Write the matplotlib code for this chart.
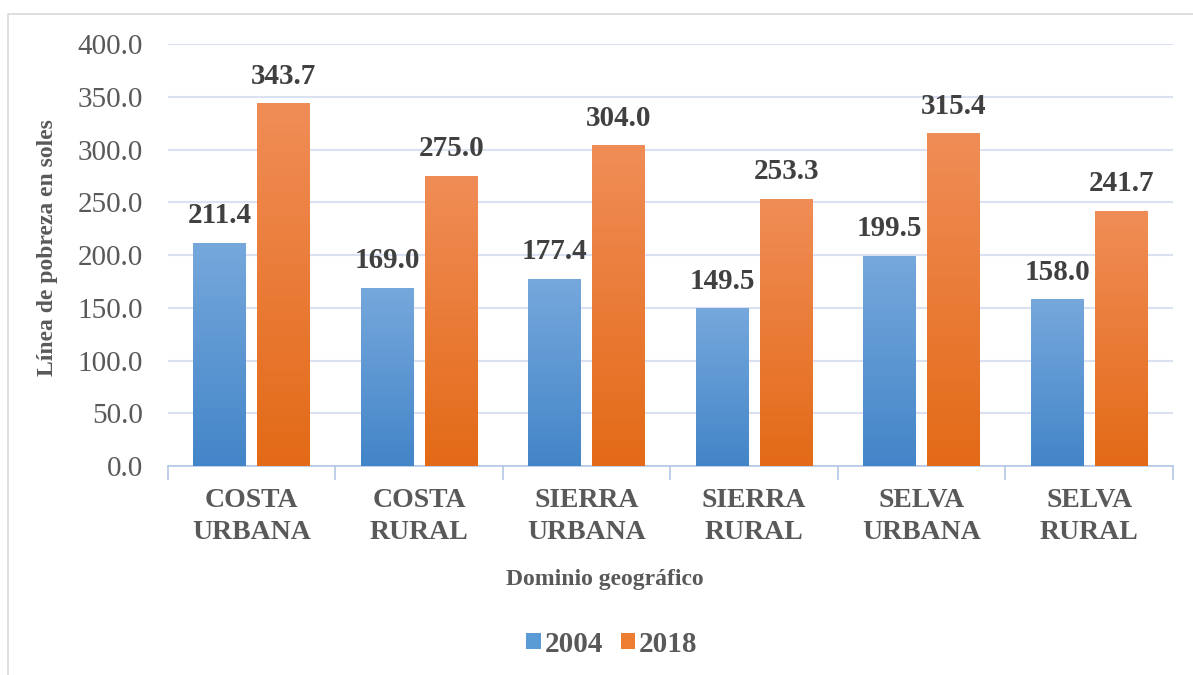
import matplotlib
matplotlib.use("Agg")
import matplotlib.pyplot as plt
import numpy as np
from matplotlib.colors import LinearSegmentedColormap
from matplotlib.patches import Rectangle

# datos
categorias = ["COSTA\nURBANA", "COSTA\nRURAL", "SIERRA\nURBANA",
              "SIERRA\nRURAL", "SELVA\nURBANA", "SELVA\nRURAL"]
v2004 = [211.4, 169.0, 177.4, 149.5, 199.5, 158.0]
v2018 = [343.7, 275.0, 304.0, 253.3, 315.4, 241.7]
series = ["2004", "2018"]

plt.rcParams['font.family'] = ['Liberation Serif', 'DejaVu Serif']

fig = plt.figure(figsize=(11.93, 6.75), dpi=100)
ax = fig.add_axes([0.1408, 0.3096, 0.8424, 0.6252])

# marco del grafico
fig.patches.append(Rectangle((8 / 1193, -0.01), 1.1, 1 - 14 / 675 + 0.01,
                             transform=fig.transFigure, fill=False,
                             edgecolor='#D9D9D9', lw=1.2))

grad_azul = LinearSegmentedColormap.from_list("az", ["#4385C8", "#76A8DC"])
grad_nar = LinearSegmentedColormap.from_list("na", ["#E36A17", "#F08D57"])

x = np.arange(len(categorias))
w = 0.316
off = 0.191
b1 = ax.bar(x - off, v2004, w, color='#5B9BD5', label=series[0], zorder=2)
b2 = ax.bar(x + off, v2018, w, color='#ED7D31', label=series[1], zorder=2)

grad = np.linspace(0, 1, 256).reshape(-1, 1)
for bars, cmap in ((b1, grad_azul), (b2, grad_nar)):
    for p in bars:
        x0, y0 = p.get_x(), p.get_y()
        im = ax.imshow(grad, cmap=cmap, origin='lower', aspect='auto',
                       extent=(x0, x0 + p.get_width(), y0, y0 + p.get_height()),
                       zorder=3)
        im.set_clip_path(p)

for bars, vals in ((b1, v2004), (b2, v2018)):
    for p, v in zip(bars, vals):
        ax.text(p.get_x() + p.get_width() / 2, v + 13, f"{v:.1f}",
                ha='center', va='bottom', fontsize=21, fontweight='bold',
                color='#404040', zorder=4)

ax.set_xlim(-0.5, len(categorias) - 0.5)
ax.set_ylim(0, 400)
ax.set_yticks(np.arange(0, 401, 50))
ax.set_yticklabels([f"{t:.1f}" for t in np.arange(0, 401, 50)])
ax.yaxis.grid(True, color='#D9E1F2', lw=1.5, zorder=0)
ax.set_axisbelow(True)

for s in ['top', 'right', 'left']:
    ax.spines[s].set_visible(False)
ax.spines['bottom'].set_color('#B4C7E7')
ax.spines['bottom'].set_linewidth(1.2)

ax.set_xticks(x)
ax.set_xticklabels(categorias, fontsize=20, fontweight='bold', color='#595959',
                   linespacing=1.37)
ax.tick_params(axis='x', length=0, pad=16)
ax.set_xticks(np.arange(-0.5, len(categorias)), minor=True)
ax.tick_params(axis='x', which='minor', length=10, color='#B4C7E7', width=1.2)
ax.tick_params(axis='y', length=0, labelsize=21, labelcolor='#595959', pad=18)

fig.text(605 / 1193, 1 - 580 / 675, "Dominio geográfico", fontsize=17,
         fontweight='bold', color='#595959', ha='center', va='center')
fig.text(48 / 1193, 1 - 248 / 675, "Línea de pobreza en soles", fontsize=17,
         fontweight='bold', color='#595959', ha='center', va='center',
         rotation=90)

leg = fig.legend(handles=[b1, b2], labels=series, loc='center',
                 bbox_to_anchor=(612 / 1193, 1 - 644 / 675), ncol=2, frameon=False,
                 handlelength=0.5, handleheight=0.5, handletextpad=0.13,
                 columnspacing=0.6, prop={'size': 21, 'weight': 'bold'})
for t in leg.get_texts():
    t.set_color('#595959')

fig.savefig("out.png", dpi=100)
